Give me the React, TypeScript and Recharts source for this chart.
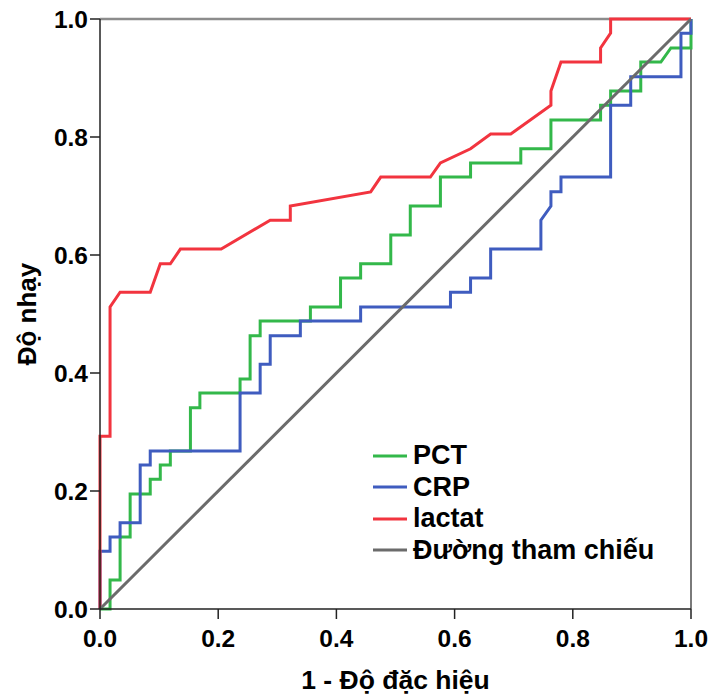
import { LineChart, Line, XAxis, YAxis, Legend, ReferenceLine } from 'recharts';

// [1 - specificity, sensitivity] points
const pctPoints = [
  [0, 0], [0.017, 0], [0.017, 0.049], [0.034, 0.049], [0.034, 0.122], [0.051, 0.122],
  [0.051, 0.195], [0.085, 0.195], [0.085, 0.22], [0.102, 0.22], [0.102, 0.244], [0.119, 0.244],
  [0.119, 0.268], [0.153, 0.268], [0.153, 0.341], [0.169, 0.341], [0.169, 0.366], [0.237, 0.366],
  [0.237, 0.39], [0.254, 0.39], [0.254, 0.463], [0.271, 0.463], [0.271, 0.488], [0.356, 0.488],
  [0.356, 0.512], [0.407, 0.512], [0.407, 0.561], [0.441, 0.561], [0.441, 0.585], [0.492, 0.585],
  [0.492, 0.634], [0.525, 0.634], [0.525, 0.683], [0.576, 0.683], [0.576, 0.732], [0.627, 0.732],
  [0.627, 0.756], [0.712, 0.756], [0.712, 0.78], [0.763, 0.78], [0.763, 0.829], [0.847, 0.829],
  [0.847, 0.854], [0.864, 0.854], [0.864, 0.878], [0.915, 0.878], [0.915, 0.927], [0.949, 0.927],
  [0.966, 0.951], [1, 0.951], [1, 1]
];

const crpPoints = [
  [0, 0], [0, 0.098], [0.017, 0.098], [0.017, 0.122], [0.034, 0.122], [0.034, 0.146],
  [0.068, 0.146], [0.068, 0.244], [0.085, 0.244], [0.085, 0.268], [0.237, 0.268], [0.237, 0.366],
  [0.271, 0.366], [0.271, 0.415], [0.288, 0.415], [0.288, 0.463], [0.339, 0.463], [0.339, 0.488],
  [0.441, 0.488], [0.441, 0.512], [0.593, 0.512], [0.593, 0.537], [0.627, 0.537], [0.627, 0.561],
  [0.661, 0.561], [0.661, 0.61], [0.746, 0.61], [0.746, 0.659], [0.763, 0.683], [0.763, 0.707],
  [0.78, 0.707], [0.78, 0.732], [0.864, 0.732], [0.864, 0.854], [0.898, 0.854], [0.898, 0.902],
  [0.983, 0.902], [0.983, 0.976], [1, 0.976], [1, 1]
];

const lactatPoints = [
  [0, 0], [0, 0.293], [0.017, 0.293], [0.017, 0.512], [0.034, 0.537], [0.085, 0.537],
  [0.102, 0.585], [0.119, 0.585], [0.136, 0.61], [0.205, 0.61], [0.288, 0.659], [0.322, 0.659],
  [0.322, 0.683], [0.458, 0.707], [0.475, 0.732], [0.559, 0.732], [0.576, 0.756], [0.627, 0.78],
  [0.661, 0.805], [0.695, 0.805], [0.763, 0.854], [0.763, 0.878], [0.78, 0.927], [0.847, 0.927],
  [0.847, 0.951], [0.864, 0.976], [0.864, 1], [1, 1]
];

const refPoints = [[0, 0], [1, 1]];

const ticks = [0, 0.2, 0.4, 0.6, 0.8, 1];

const series = [
  { name: 'PCT', points: pctPoints, color: '#33b84a' },
  { name: 'CRP', points: crpPoints, color: '#3f5cbf' },
  { name: 'lactat', points: lactatPoints, color: '#f2343f' },
  { name: 'Đường tham chiếu', points: refPoints, color: '#6b6b6b' }
];

const FONT = '"Liberation Sans", Arial, sans-serif';

const toRows = (pts: number[][]) => pts.map(([x, y]) => ({ x, y }));

const fmt = (v: number) => v.toFixed(1);

// zero-height box so the legend takes no room from the plot
function LegendBox() {
  return (
    <div style={{ height: 0, overflow: 'visible' }}>
      <div style={{ fontFamily: FONT, fontWeight: 'bold', fontSize: 27, color: '#000', whiteSpace: 'nowrap' }}>
        {series.map((s) => (
          <div key={s.name} style={{ display: 'flex', alignItems: 'center', height: 31.5 }}>
            <svg width={34} height={6} style={{ marginRight: 6 }}>
              <line x1={0} y1={3} x2={34} y2={3} stroke={s.color} strokeWidth={3} />
            </svg>
            <span>{s.name}</span>
          </div>
        ))}
      </div>
    </div>
  );
}

export default function App() {
  return (
    <div style={{ position: 'absolute', top: 0, left: 0 }}>
      <LineChart
        width={712}
        height={698}
        margin={{ top: 19, right: 21, left: 8, bottom: 0 }}
        style={{ background: '#fff' }}
      >
        <XAxis
          type="number"
          dataKey="x"
          domain={[0, 1]}
          ticks={ticks}
          tickFormatter={fmt}
          height={89}
          tickSize={10}
          tickMargin={11}
          stroke="#222"
          strokeWidth={1.5}
          tick={{ fill: '#000', fontSize: 24.5, fontWeight: 'bold', fontFamily: FONT }}
          label={{
            value: '1 - Độ đặc hiệu',
            position: 'insideBottom',
            offset: 9,
            fill: '#000',
            fontSize: 26.5,
            fontWeight: 'bold',
            fontFamily: FONT
          }}
        />
        <YAxis
          type="number"
          domain={[0, 1]}
          ticks={ticks}
          tickFormatter={fmt}
          width={92}
          tickSize={10}
          tickMargin={2}
          stroke="#222"
          strokeWidth={1.5}
          tick={{ fill: '#000', fontSize: 24.5, fontWeight: 'bold', fontFamily: FONT }}
          label={{
            value: 'Độ nhạy',
            angle: -90,
            position: 'insideLeft',
            offset: 19,
            fill: '#000',
            fontSize: 26,
            fontWeight: 'bold',
            fontFamily: FONT,
            style: { textAnchor: 'middle' }
          }}
        />
        <ReferenceLine y={1} stroke="#8c8c8c" strokeWidth={2.5} />
        <ReferenceLine x={1} stroke="#7a7a7a" strokeWidth={2} />
        {series.map((s) => (
          <Line
            key={s.name}
            data={toRows(s.points)}
            dataKey="y"
            name={s.name}
            type="linear"
            stroke={s.color}
            strokeWidth={3}
            dot={false}
            activeDot={false}
            isAnimationActive={false}
          />
        ))}
        <Legend
          layout="vertical"
          content={LegendBox}
          wrapperStyle={{ left: 373, top: 440, width: 'auto', height: 0 }}
        />
      </LineChart>
    </div>
  );
}
